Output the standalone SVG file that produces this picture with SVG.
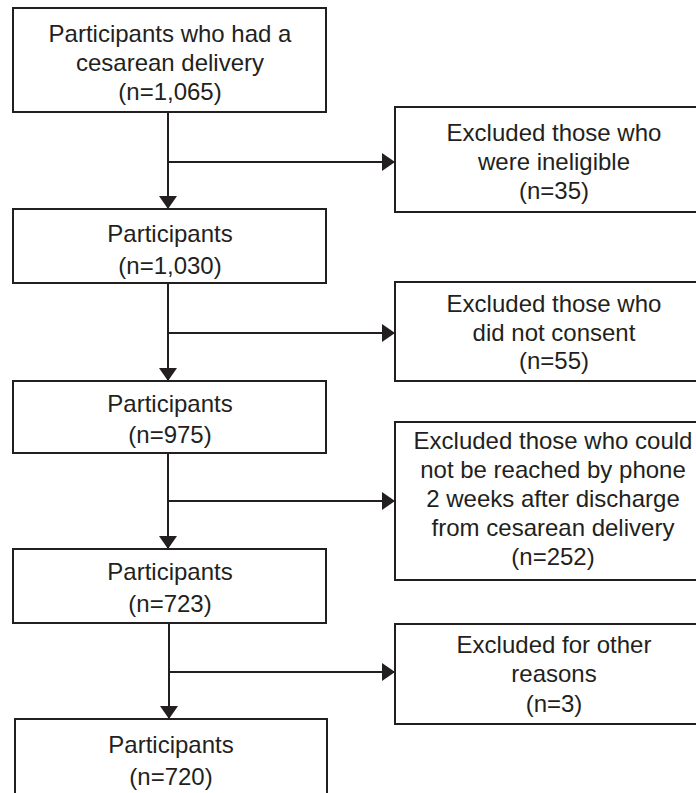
<svg xmlns="http://www.w3.org/2000/svg" width="696" height="793" viewBox="0 0 696 793">
<defs>
<style>
.box{fill:#fff;stroke:#231f20;stroke-width:2}
.t{font-family:"Liberation Sans",Arial,sans-serif;font-size:24px;fill:#231f20;text-anchor:middle}
.ln{stroke:#231f20;stroke-width:2;fill:none}
</style>
<marker id="ah" viewBox="0 0 13 18" refX="13" refY="9" markerWidth="13" markerHeight="18" markerUnits="userSpaceOnUse" orient="auto">
<path d="M0,0 L13,9 L0,18 Z" fill="#231f20"/>
</marker>
</defs>
<rect width="696" height="793" fill="#fff"/>
<g id="connectors">
<line class="ln" x1="168" y1="112" x2="168" y2="209" marker-end="url(#ah)"/>
<line class="ln" x1="168" y1="162" x2="395" y2="162" marker-end="url(#ah)"/>
<line class="ln" x1="168" y1="283" x2="168" y2="381" marker-end="url(#ah)"/>
<line class="ln" x1="168" y1="333" x2="395" y2="333" marker-end="url(#ah)"/>
<line class="ln" x1="168" y1="453" x2="168" y2="549" marker-end="url(#ah)"/>
<line class="ln" x1="168" y1="501" x2="395" y2="501" marker-end="url(#ah)"/>
<line class="ln" x1="169" y1="623" x2="169" y2="719" marker-end="url(#ah)"/>
<line class="ln" x1="169" y1="672" x2="395" y2="672" marker-end="url(#ah)"/>
</g>
<g id="n1">
<rect class="box" x="13" y="8" width="313" height="104"/>
<text class="t" x="170" y="42">Participants who had a</text>
<text class="t" x="170" y="71">cesarean delivery</text>
<text class="t" x="170" y="100">(n=1,065)</text>
</g>
<g id="x1">
<rect class="box" x="395" y="107" width="320" height="105"/>
<text class="t" x="554" y="141">Excluded those who</text>
<text class="t" x="554" y="170">were ineligible</text>
<text class="t" x="554" y="199">(n=35)</text>
</g>
<g id="n2">
<rect class="box" x="13" y="209" width="313" height="74"/>
<text class="t" x="170" y="242">Participants</text>
<text class="t" x="170" y="274">(n=1,030)</text>
</g>
<g id="x2">
<rect class="box" x="395" y="282" width="320" height="99"/>
<text class="t" x="554" y="312">Excluded those who</text>
<text class="t" x="554" y="341">did not consent</text>
<text class="t" x="554" y="369">(n=55)</text>
</g>
<g id="n3">
<rect class="box" x="13" y="381" width="313" height="72"/>
<text class="t" x="170" y="412">Participants</text>
<text class="t" x="170" y="443">(n=975)</text>
</g>
<g id="x3">
<rect class="box" x="395" y="422" width="320" height="158"/>
<text class="t" x="553" y="449">Excluded those who could</text>
<text class="t" x="553" y="478">not be reached by phone</text>
<text class="t" x="553" y="507">2 weeks after discharge</text>
<text class="t" x="553" y="536">from cesarean delivery</text>
<text class="t" x="553" y="565">(n=252)</text>
</g>
<g id="n4">
<rect class="box" x="13" y="549" width="313" height="74"/>
<text class="t" x="170" y="580">Participants</text>
<text class="t" x="170" y="612">(n=723)</text>
</g>
<g id="x4">
<rect class="box" x="395" y="624" width="320" height="100"/>
<text class="t" x="554" y="653">Excluded for other</text>
<text class="t" x="554" y="682">reasons</text>
<text class="t" x="554" y="712">(n=3)</text>
</g>
<g id="n5">
<rect class="box" x="15" y="719" width="312" height="80"/>
<text class="t" x="171" y="753">Participants</text>
<text class="t" x="171" y="785">(n=720)</text>
</g>
</svg>
